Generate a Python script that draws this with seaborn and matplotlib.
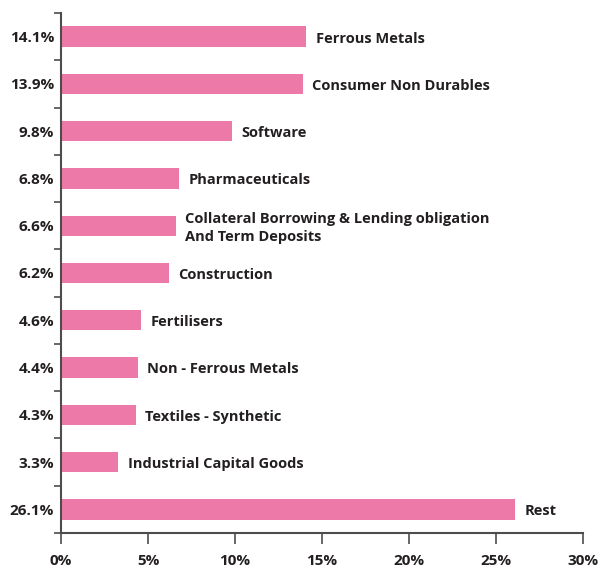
import matplotlib
matplotlib.use("Agg")
import matplotlib.pyplot as plt
import seaborn as sns
import pandas as pd
import numpy as np

sectors = ["Ferrous Metals", "Consumer Non Durables", "Software", "Pharmaceuticals",
           "Collateral Borrowing & Lending obligation\nAnd Term Deposits", "Construction",
           "Fertilisers", "Non - Ferrous Metals", "Textiles - Synthetic",
           "Industrial Capital Goods", "Rest"]
values = [14.1, 13.9, 9.8, 6.8, 6.6, 6.2, 4.6, 4.4, 4.3, 3.3, 26.1]
tick_labels = ["14.1%", "13.9%", "9.8%", "6.8%", "6.6%", "6.2%", "4.6%", "4.4%", "4.3%", "3.3%", "26.1%"]
x_ticks = [0, 5, 10, 15, 20, 25, 30]
x_tick_labels = ["0%", "5%", "10%", "15%", "20%", "25%", "30%"]

sns.set_style("white")
plt.rcParams['font.family'] = ['Open Sans', 'DejaVu Sans']

df = pd.DataFrame({"sector": sectors, "value": values})
df["pos"] = [str(i) for i in range(len(df))]

fig = plt.figure(figsize=(6.0, 5.69), dpi=100)
ax = fig.add_axes([61/600, 1-533/569, 522/600, 520/569])

BAR = "#EC79A7"
TXT = "#231F20"
TICK = "#4d4d4d"
sns.barplot(data=df, x="value", y="pos", orient="h", color=BAR, width=0.43,
            saturation=1, ax=ax, linewidth=0)

ax.set_xlim(0, 30)
ax.set_ylim(len(df) - 0.5, -0.5)
ax.set_xticks(x_ticks)
ax.set_xticklabels(x_tick_labels, fontsize=11, fontweight="bold", color=TXT)
ax.set_yticks(range(len(df)))
ax.set_yticklabels(tick_labels, fontsize=11, fontweight="bold", color=TXT)
ax.set_yticks(np.arange(-0.5, len(df), 1.0), minor=True)
ax.tick_params(axis="y", which="major", left=True, length=0, pad=5)
ax.tick_params(axis="y", which="minor", left=True, length=5, width=1.2, color=TICK, direction="out")
ax.tick_params(axis="x", which="major", bottom=True, length=8, width=1.2, color=TICK,
               direction="out", pad=7)
ax.set_xlabel("")
ax.set_ylabel("")

for s in ["top", "right"]:
    ax.spines[s].set_visible(False)
for s in ["left", "bottom"]:
    ax.spines[s].set_color(TICK)
    ax.spines[s].set_linewidth(1.5)

for i, (name, v) in enumerate(zip(sectors, values)):
    ax.text(v + 0.55, i + 0.04, name, va="center", ha="left", fontsize=10.5,
            fontweight="bold", color=TXT, linespacing=1.35)

fig.savefig("out.png", dpi=100)
